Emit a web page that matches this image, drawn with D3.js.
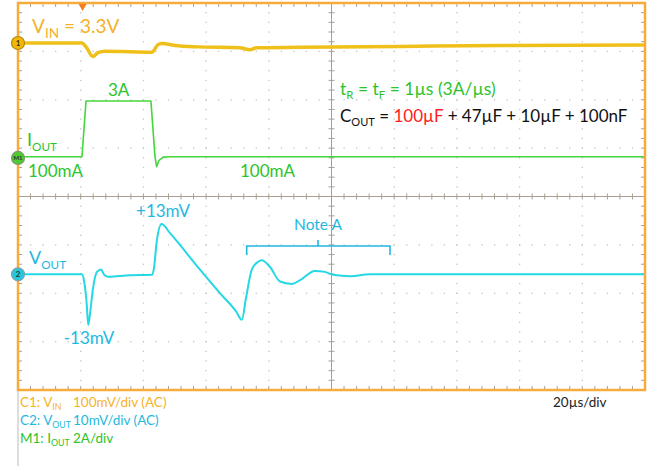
<!DOCTYPE html>
<html>
<head>
<meta charset="utf-8">
<script src="https://cdn.jsdelivr.net/npm/d3@7"></script>
<style>
  body { margin: 0; background: #fff; }
  svg text { font-family: Lato, "Open Sans", sans-serif; }
</style>
</head>
<body>
<div id="scope"></div>
<script>
// time axis, µs (20µs/div, 10 div)
var timeDomain = [0, 200];

// C1: VIN, mV (AC coupled, 100mV/div)
var vinTime = [0, 20.4, 21.7, 23.9, 25.5, 27.8, 35.7, 42.7, 44.7, 46, 50, 58, 70.8, 74, 76, 90, 122, 154, 200];
var vinMv   = [0, 0, -8, -28, -20, -17, -18, -19, -3, -1, -5, -8, -10, -14, -10, -9, -7, -5, -4];

// M1: IOUT, A (2A/div)
var ioutTime = [0, 20.4, 21.7, 42.4, 43.7, 44.2, 45, 46.3, 48.5, 200];
var ioutAmp  = [0.1, 0.1, 2.4, 2.4, 0.1, -0.31, -0.05, 0.08, 0.1, 0.1];

// C2: VOUT, mV (AC coupled, 10mV/div)
var voutTime = [0, 20.4, 21.1, 21.9, 22.4, 23, 23.9, 25.2, 26.5, 27.4, 28.7, 35.7, 42.7, 43.3, 44.3, 45.8, 48.5, 58, 64.4, 69.5, 71.4, 72.7, 74.6, 76.6, 77.8, 80.4, 83.6, 87.3, 90, 94.7, 97.9, 100.5, 105.9, 112.3, 122, 200];
var voutMv   = [0, 0, -1.5, -6, -10.5, -8, -3, 0.5, 1, 0, -0.5, -0.2, -0.1, 1, 7, 10.4, 8.5, 1.0, -3.9, -7.6, -9.4, -5, 1, 2.6, 2.9, 1.5, -1.5, -2, -1.2, 0.7, 0.5, -0.1, -0.4, 0, 0, 0];

var triggerTime = 20.6;

// set the dimensions of the page and the screen
var width = 647, height = 466;
var plot = {left: 18, right: 645, top: 3, bottom: 390};

var svg = d3.select("#scope")
  .append("svg")
    .attr("width", width)
    .attr("height", height);

var x = d3.scaleLinear().domain(timeDomain).range([plot.left, plot.right]);
// vertical screen position in divisions, 8 div
var yDiv = d3.scaleLinear().domain([-4, 4]).range([plot.bottom, plot.top]);

// channel offsets (div) and scales (unit/div)
var vinOffset = 3.173, vinPerDiv = 100;
var ioutOffset = 0.773, ioutPerDiv = 2;
var voutOffset = -1.608, voutPerDiv = 10;

var gridColor = "#c4c4c4", axisColor = "#a89f92";

// legend box line on the left
svg.append("line")
  .attr("x1", plot.left).attr("x2", plot.left)
  .attr("y1", plot.bottom).attr("y2", height)
  .attr("stroke", "#bbb").attr("stroke-width", 1);

// dotted grid
var majorX = d3.range(1, 10).map(function(i) { return i * 20; });
var majorY = [-3, -2, -1, 1, 2, 3];
var minorX = d3.range(0, 50).map(function(i) { return i * 4; });
var minorY = d3.range(0, 40).map(function(i) { return -4 + i * 0.2; });
var dots = [];
majorX.forEach(function(t) { minorY.forEach(function(v) { dots.push([t, v]); }); });
majorY.forEach(function(v) { minorX.forEach(function(t) { dots.push([t, v]); }); });
svg.append("g").selectAll("rect")
  .data(dots)
  .enter()
  .append("rect")
    .attr("x", function(d) { return x(d[0]) - 0.6; })
    .attr("y", function(d) { return yDiv(d[1]) - 0.6; })
    .attr("width", 1.3).attr("height", 1.3)
    .attr("fill", gridColor);

// center axes with minor ticks
var axes = svg.append("g").attr("stroke", axisColor).attr("stroke-width", 1);
axes.append("line").attr("x1", x(100)).attr("x2", x(100)).attr("y1", plot.top).attr("y2", plot.bottom);
axes.append("line").attr("x1", plot.left).attr("x2", plot.right).attr("y1", yDiv(0)).attr("y2", yDiv(0));
axes.selectAll(".tx").data(minorX).enter().append("line")
  .attr("x1", function(d) { return x(d); }).attr("x2", function(d) { return x(d); })
  .attr("y1", yDiv(0) - 3).attr("y2", yDiv(0) + 3);
axes.selectAll(".ty").data(minorY).enter().append("line")
  .attr("x1", x(100) - 3).attr("x2", x(100) + 3)
  .attr("y1", function(d) { return yDiv(d); }).attr("y2", function(d) { return yDiv(d); });
// ticks along the frame
axes.selectAll(".bt").data(minorX).enter().append("line")
  .attr("x1", function(d) { return x(d); }).attr("x2", function(d) { return x(d); })
  .attr("y1", plot.top).attr("y2", plot.top + 4);
axes.selectAll(".bb").data(minorX).enter().append("line")
  .attr("x1", function(d) { return x(d); }).attr("x2", function(d) { return x(d); })
  .attr("y1", plot.bottom - 4).attr("y2", plot.bottom);
axes.selectAll(".bl").data(minorY).enter().append("line")
  .attr("x1", plot.left).attr("x2", plot.left + 4)
  .attr("y1", function(d) { return yDiv(d); }).attr("y2", function(d) { return yDiv(d); });
axes.selectAll(".br").data(minorY).enter().append("line")
  .attr("x1", plot.right - 4).attr("x2", plot.right)
  .attr("y1", function(d) { return yDiv(d); }).attr("y2", function(d) { return yDiv(d); });

// traces
function trace(times, vals, offset, perDiv, color, w, curve) {
  var pts = times.map(function(t, i) { return [t, offset + vals[i] / perDiv]; });
  var line = d3.line()
    .x(function(d) { return x(d[0]); })
    .y(function(d) { return yDiv(d[1]); })
    .curve(curve);
  svg.append("path")
    .datum(pts)
    .attr("d", line)
    .attr("fill", "none")
    .attr("stroke", color)
    .attr("stroke-width", w)
    .attr("stroke-linejoin", "round");
}
trace(vinTime, vinMv, vinOffset, vinPerDiv, "#f0c01a", 3.5, d3.curveMonotoneX);
trace(ioutTime, ioutAmp, ioutOffset, ioutPerDiv, "#44d63a", 1.6, d3.curveLinear);
trace(voutTime, voutMv, voutOffset, voutPerDiv, "#24d8e6", 2, d3.curveMonotoneX);

// frame
svg.append("rect")
  .attr("x", plot.left).attr("y", plot.top)
  .attr("width", plot.right - plot.left).attr("height", plot.bottom - plot.top)
  .attr("fill", "none").attr("stroke", "#f6ab3c").attr("stroke-width", 2.5);

// trigger marker
var tx = x(triggerTime);
svg.append("path")
  .attr("d", "M" + (tx - 4) + "," + (plot.top + 1) + "L" + (tx + 4) + "," + (plot.top + 1) + "L" + tx + "," + (plot.top + 8) + "Z")
  .attr("fill", "#f57f20");

// channel markers
var markers = [
  {label: "1", off: vinOffset, fill: "#f3b800", stroke: "#b08a10", size: 8},
  {label: "M1", off: ioutOffset + 0.05 / ioutPerDiv, fill: "#4ccc30", stroke: "#7a9a70", size: 6},
  {label: "2", off: voutOffset, fill: "#22c8dc", stroke: "#8aa0a8", size: 8}
];
var mk = svg.append("g").selectAll("g").data(markers).enter().append("g")
  .attr("transform", function(d) { return "translate(" + plot.left + "," + yDiv(d.off) + ")"; });
mk.append("circle").attr("r", 6.5)
  .attr("fill", function(d) { return d.fill; })
  .attr("stroke", function(d) { return d.stroke; }).attr("stroke-width", 1.2);
mk.append("text")
  .text(function(d) { return d.label; })
  .attr("text-anchor", "middle").attr("dy", "0.35em")
  .style("font-size", function(d) { return d.size + "px"; })
  .style("font-weight", "bold")
  .attr("fill", "#333");

// text helper: parts = [[text, sub?, color?]]
function label(px, py, size, color, parts, anchor, subRatio) {
  var r = subRatio || 0.65;
  var t = svg.append("text")
    .attr("x", px).attr("y", py)
    .attr("fill", color)
    .attr("text-anchor", anchor || "start")
    .style("font-size", size + "px");
  var shifted = false;
  parts.forEach(function(p) {
    var s = t.append("tspan").text(p[0]);
    if (p[2]) s.attr("fill", p[2]);
    if (p[1] && !shifted) { s.attr("dy", size * 0.25).style("font-size", (size * r) + "px"); shifted = true; }
    else if (p[1]) { s.style("font-size", (size * r) + "px"); }
    else if (shifted) { s.attr("dy", -size * 0.25); shifted = false; }
  });
  return t;
}

var orange = "#f5b22a", green = "#2cc42c", cyan = "#1eb8e0";

label(32, 33, 19, orange, [["V"], ["IN", true], [" = 3.3V"]], "start", 0.72);
label(108, 96, 17, green, [["3A"]]);
label(27, 146, 18, green, [["I"], ["OUT", true]]);
label(28, 177, 17, green, [["100mA"]]);
label(240, 177, 17, green, [["100mA"]]);
label(340, 95, 17.5, green, [["t"], ["R", true], [" = t"], ["F", true], [" = 1µs (3A/µs)"]]);
label(340, 122, 17, "#111", [["C"], ["OUT", true], [" = "], ["100µF", false, "#ff2020"], [" + 47µF + 10µF + 100nF"]]);
label(163, 217, 17, cyan, [["+13mV"]], "middle");
label(29, 264, 18, cyan, [["V"], ["OUT", true]]);
label(89, 344, 17, cyan, [["-13mV"]], "middle");
label(318, 230, 15.5, cyan, [["Note A"]], "middle");

// Note A bracket
var br = {x0: 246.7, x1: 390, y: 246, drop: 9, mid: 318, up: 6};
svg.append("path")
  .attr("d", "M" + br.x0 + "," + (br.y + br.drop) + "V" + br.y + "H" + br.x1 + "V" + (br.y + br.drop) +
             "M" + br.mid + "," + br.y + "V" + (br.y - br.up))
  .attr("fill", "none").attr("stroke", cyan).attr("stroke-width", 1.6);

// settings legend below the screen
label(20, 407, 13.5, orange, [["C1: V"], ["IN", true], [""]]);
label(73, 407, 13.5, orange, [["100mV/div (AC)"]]);
label(20, 425, 13.5, cyan, [["C2: V"], ["OUT", true], [""]]);
label(73, 425, 13.5, cyan, [["10mV/div (AC)"]]);
label(20, 443, 13.5, green, [["M1: I"], ["OUT", true], [""]]);
label(73, 443, 13.5, green, [["2A/div"]]);
label(553, 407, 13.5, "#222", [["20µs/div"]]);
</script>
</body>
</html>
